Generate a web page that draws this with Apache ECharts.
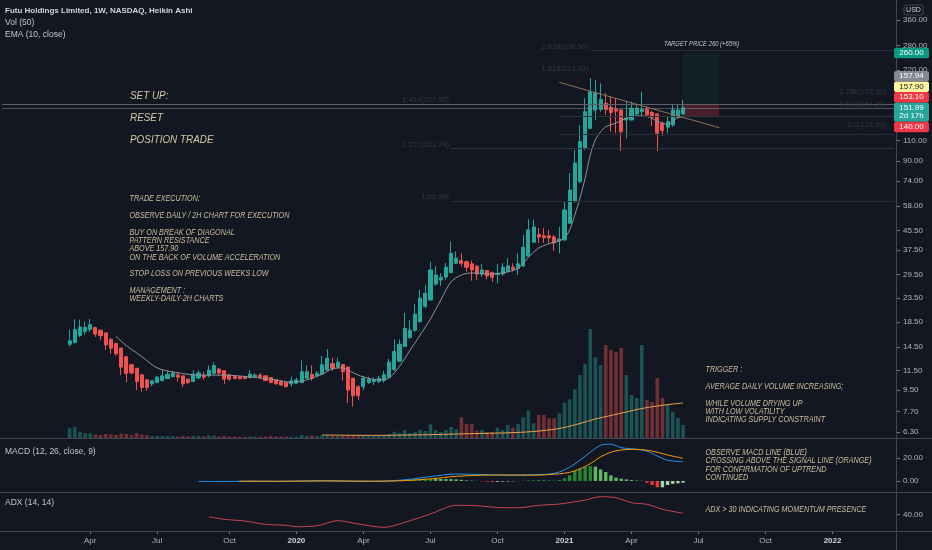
<!DOCTYPE html>
<html><head><meta charset="utf-8">
<script src="https://cdn.jsdelivr.net/npm/echarts@6/dist/echarts.min.js"></script>
<style>html,body{margin:0;padding:0;background:#131722;}#c{width:932px;height:550px;}</style>
</head><body><div id="c"></div><script>
// ---------- DATA ----------
const firstWeek = '2018-12-03', weekCount = 174, firstBar = '2019-03-04';
const monthNames = ['Jan','Feb','Mar','Apr','May','Jun','Jul','Aug','Sep','Oct','Nov','Dec'];
const priceTicks = [6.3,7.7,9.5,11.5,14.5,18.5,23.5,29.5,37.5,45.5,58,74,90,110,140,180,220,280,360,440];
const macdTicks = [0,20];
const adxTicks = [40];

const open = [14.9,15.15,16.2,16.9,17.2,17.55,17.1,16.65,15.65,15.0, 14.33,13.18,12.18,11.76,11.03,10.5,10.09,10.22,10.43,10.63,
 10.84,11.0,10.92,10.57,10.33,10.7,10.97,10.92,11.19,11.67, 11.48,11.03,10.84,10.82,10.83,10.74,10.81,11.0,10.92,10.74,
 10.5,10.33,10.22,10.09,10.16,10.22,10.67,11.07,10.92,11.1, 11.56,12.3,11.9,12.2,11.9,10.67,9.81,9.81,10.22,10.33,
 10.33,10.43,10.78,11.63,12.6,14.55,15.9,17.1,18.6,21.6, 23.0,26.9,28.0,28.8,30.1,33.0,33.9,33.5,32.8,32.0,
 29.7,30.7,30.1,29.5,29.7,30.4,31.75,31.4,32.15,35.4, 40.6,43.8,43.2,43.2,42.7,41.1,41.5,48.9,60.3,73.6,
 102.1,124.2,148.7,149.7,158.9,152.7,149.7,148.7,134.8,134.8, 142.9,146.3,149.7,144.9,142.9,130.5,125.6,128.2,138.4,142.9];
const close = [15.4,17.2,17.65,17.55,18.05,16.46,16.2,14.8,14.33,13.55, 11.9,11.19,11.23,10.33,9.75,9.75,10.4,10.78,10.92,11.1,
 11.23,10.78,10.09,10.22,11.1,11.23,10.78,11.56,12.1,11.23, 10.57,10.57,10.63,10.62,10.64,11.1,11.0,10.78,10.43,10.22,
 10.09,9.98,9.81,10.4,10.5,11.37,11.37,10.67,11.19,12.18, 12.99,11.76,12.49,11.37,9.5,8.98,8.98,10.67,10.57,10.5,
 10.67,11.03,12.49,13.87,14.9,17.4,17.1,20.0,23.4,24.6, 30.9,29.4,28.75,31.75,36.4,34.7,33.0,31.75,30.9,29.7,
 30.9,29.1,28.75,29.9,31.75,32.15,31.1,32.8,38.6,45.8, 47.1,42.7,42.4,42.3,40.3,41.9,55.7,67.8,88.4,109.0,
 146.3,178.0,176.2,165.2,149.7,144.9,147.2,120.2,137.1,151.2, 151.2,149.7,141.6,138.4,118.3,121.4,132.6,148.7,148.7,151.99];
const low = [14.55,15.0,16.0,16.3,16.8,16.0,15.5,14.1,13.55,13.3, 11.0,10.26,11.1,9.5,9.34,9.43,9.88,10.16,10.33,10.57,
 10.74,10.33,9.75,10.09,10.3,10.57,10.5,10.78,11.1,11.0, 10.09,10.4,10.57,10.55,10.56,10.67,10.74,10.57,10.37,10.16,
 10.02,9.91,9.78,9.81,10.09,10.16,10.57,10.43,10.81,11.0, 11.48,11.48,11.76,10.43,8.36,8.07,8.61,9.5,10.09,9.98,
 10.16,10.22,10.67,11.48,12.5,14.5,15.75,16.8,18.4,21.2, 22.85,26.4,26.4,28.0,29.9,32.8,32.0,30.4,27.8,28.0,
 28.9,28.2,27.5,27.1,29.2,30.1,30.4,29.4,31.75,35.2, 40.3,40.3,40.3,40.3,37.3,36.4,41.2,48.6,60.2,72.4,
 100.4,123.0,134.8,146.3,141.6,120.2,118.3,99.4,112.7,133.9, 141.6,138.6,138.6,127.2,99.4,115.4,118.3,126.3,137.5,142.0];
const high = [17.2,19.0,19.0,18.6,19.1,17.7,17.2,16.7,15.8,15.1, 14.4,13.2,12.2,11.8,11.05,10.57,10.5,10.92,11.56,11.48,
 11.48,11.37,10.95,10.67,11.56,11.56,11.37,12.1,12.5,11.76, 11.56,11.05,10.92,10.9,10.9,11.56,11.19,11.23,10.95,10.78,
 10.53,10.37,10.26,10.84,10.7,12.7,12.1,12.1,11.45,13.27, 14.2,13.05,13.05,12.25,11.95,10.7,9.98,10.92,10.81,10.74,
 10.92,11.48,12.9,15.6,15.6,20.25,18.9,22.1,25.4,26.7, 33.5,32.0,29.9,33.1,40.8,37.0,36.4,33.9,33.9,32.5,
 32.8,30.9,30.4,32.8,33.0,34.7,33.0,36.4,43.6,50.8, 50.5,46.6,46.6,45.8,43.6,47.2,60.5,80.1,100.4,128.2,
 166.9,203.4,199.7,193.3,175.3,169.6,166.9,149.0,163.0,161.4, 156.1,178.0,154.6,147.7,143.9,132.6,139.2,156.1,156.1,164.1];
const volume = [9.7,11.3,6.3,4.7,4.7,3.5,3,4,3.5,3, 4.5,4,3,5,3.5,3,2,2,2,2,
 1.8,1.5,2,1.5,2,1.8,1.5,2.5,2.5,1.5, 2,1.5,1.5,1.2,1.2,1.5,1.2,1.5,1.5,2,
 1.5,1.5,1.5,1.2,1.5,3,2,2.5,2,3, 3,2.5,2,2.5,3,3,2.5,2,2,1.8,
 2,2.5,4,6.3,5,8,5,6,8,7, 13.7,8,6,8,11,9,20.7,14,14,7.3,
 8,6,6,10.3,8,13,10.3,14,20.7,27.3, 14.7,23,23,19.7,19.7,24.7,35.3,38.7,48.7,63,
 74,109,80.7,73,93,88,86,90,63,43, 40,93,38,36,60,40,33,26,20,13];
// [bar index, value] readings of the indicator lines
const volMa = [[49,3.0],[55,2.7],[60,2.6],[65,3.0],[70,3.3],[75,4.0],[80,4.6],[85,5.2],[90,6.5],[95,9.5],[99,14.5],[102,19],[105,22.5],[108,26],[111,29.5],[114,32],[117,34],[119,35]];
const ema10 = [[9,16.1],[11,14.7],[14,13.2],[17,11.8],[21,11.25],[25,11.0],[30,11.0],[35,10.8],[40,10.5],[43,10.25],[46,10.5],[49,11.1],[51,11.7],[53,11.8],[55,11.25],[57,10.8],[60,10.5],[62,10.7],[64,12.0],[66,14.0],[68,16.3],[70,19.1],[72,23.0],[74,27.5],[76,29.4],[78,30.0],[81,29.7],[84,30.0],[87,31.4],[89,35.0],[91,38.3],[93,40.0],[95,41.1],[96,42.3],[97,45.8],[98,53.0],[99,62.6],[100,76],[101,95.5],[102,110.8],[103,120],[104,126],[106,130.9],[108,137.1],[110,140.3],[112,139.6],[114,133.2],[116,129.2],[118,137.9],[119,139.6]];
const macdLine = [[25,-0.5],[30,-0.4],[35,-0.3],[40,-0.3],[45,-0.1],[50,0.2],[55,-0.3],[60,-0.2],[63,0.3],[66,1.5],[70,3.8],[75,6.0],[80,5.6],[85,5.0],[90,5.5],[93,6.0],[95,7.8],[97,12],[99,18],[101,25],[103,31],[105,32],[107,29],[110,27.5],[112,26],[114,21.7],[116,18],[119,16.8]];
const signalLine = [[33,-0.3],[40,-0.3],[50,0],[60,-0.2],[65,0.3],[70,1.8],[75,4.0],[80,5.0],[85,5.2],[90,5.0],[95,6.2],[97,7.5],[99,10.5],[101,15],[103,21],[105,25],[107,27],[110,27.5],[113,26],[116,22.6],[119,19.7]];
const histStart = 33;
const macdHist = [0.3,0.35,0.3,0.25,0.2,0.2,0.15,0.1,0.1,0.05,0.1,0.15,0.2,0.2,0.2,0.2,0.25,0.3,0.3,0.2,
 -0.1,-0.4,-0.6,-0.5,-0.3, -0.2,-0.1,0.1,0.2,0.4,0.6,0.8,1.1,
 1.3,1.5,1.8,2.0,2.2,2.0,1.8,1.7,1.6,1.4, 1.0,0.6,0.3,0.1,-0.3,-0.6,-0.8,-0.7,-0.5,-0.4,-0.3,-0.1,
 0.2,0.5,0.6,0.5,0.4,0.3,0.3,0.8, 2.3,5,8.7,10.7,12.5,13,12.5,10,7.8,4.9,2.9,2,1.4,0.9,0.4,0.2,
 -1.5,-3.5,-5.5,-5.5,-3.5,-2.5,-2,-1.5];
const adx = [[27,36.3],[30,31.5],[34,28.4],[38,22.3],[42,20.5],[44,17.9],[48,19.7],[52,29],[56,22.9],[61,16.8],[64,22.9],[70,41.3],[75,57.3],[79,56.6],[84,52.9],[87,52.9],[91,57.3],[95,59.7],[100,67],[103,73.2],[106,71.3],[109,62.1],[112,59.2],[115,50],[119,42.6]];

// drawings
const lastPrice = 151.99, entryPrice = 157.90, resistPrice = 157.94, stopPrice = 140.00, targetPrice = 260.00, midPrice = 153.10;
const fibLevels = [[266.5,'2021-02-08','2.618(266.50)'],[213.43,'2021-02-08','1.618(213.43)'],[157.90,'2020-08-03','1.414(157.90)'],[101.74,'2020-08-03','1.272(101.74)'],[60.9,'2020-08-03','1(60.90)']];
const rightLabels = [[172.3,'0.786(172.30)'],[151.2,'0.618(151.20)'],[124.6,'0.5(124.60)']];
const trendLine = [['2020-12-28',195],['2021-08-02',125]];
const boxFrom = '2021-06-14', boxTo = '2021-08-02';

const titleLines = ['Futu Holdings Limited, 1W, NASDAQ, Heikin Ashi','Vol (50)','EMA (10, close)'];
const setupLines = ['SET UP:','RESET','POSITION TRADE'];
const execText = 'TRADE EXECUTION:\n\nOBSERVE DAILY / 2H CHART FOR EXECUTION\n\nBUY ON BREAK OF DIAGONAL\nPATTERN RESISTANCE\nABOVE 157.90\nON THE BACK OF VOLUME ACCELERATION\n\nSTOP LOSS ON PREVIOUS WEEKS LOW\n\nMANAGEMENT :\nWEEKLY-DAILY-2H CHARTS';
const triggerText = 'TRIGGER :\n\nAVERAGE DAILY VOLUME INCREASING;\n\nWHILE VOLUME DRYING UP\nWITH LOW VOLATILITY\nINDICATING SUPPLY CONSTRAINT';
const macdNote = 'OBSERVE MACD LINE (BLUE)\nCROSSING ABOVE THE SIGNAL LINE (ORANGE)\nFOR CONFIRMATION OF UPTREND\nCONTINUED';
const adxNote = 'ADX > 30 INDICATING MOMENTUM PRESENCE';
const targetNote = 'TARGET PRICE 260 (+65%)';

// ---------- BUILD ----------
const weeks = [];
{ const t0 = Date.parse(firstWeek + 'T00:00:00Z');
  for (let k = 0; k < weekCount; k++) weeks.push(new Date(t0 + k * 7 * 864e5).toISOString().slice(0, 10)); }
const off = weeks.indexOf(firstBar);
const last = weeks[weeks.length - 1];
const K = d => weeks.indexOf(d);
const isLabelWeek = k => { if (k < off) return false; const d = new Date(weeks[k] + 'T00:00:00Z'); return d.getUTCDate() <= 7 && d.getUTCMonth() % 3 === 0; };

const candles = open.map((o, i) => [i + off, o, close[i], low[i], high[i]]);
const volData = volume.map((v, i) => ({ value: [i + off, v], itemStyle: { color: close[i] >= open[i] ? 'rgba(38,166,154,0.42)' : 'rgba(239,83,80,0.42)' } }));
const shift = arr => arr.map(([i, v]) => [i + off, v]);
const histData = macdHist.map((v, j) => {
  const prev = j > 0 ? macdHist[j - 1] : v; let c;
  if (v >= 0) c = v >= prev ? '#25882f' : '#62b866'; else c = v < prev ? '#e53935' : '#a5d6a7';
  return { value: [histStart + j + off, v], itemStyle: { color: c } };
});

const seg = (d1, p1, d2, p2, color, type) => [{ coord: [K(d1), p1], lineStyle: { color, width: 1, type: type || 'solid' } }, { coord: [K(d2), p2] }];

const xBase = { type: 'category', data: weeks, boundaryGap: true, axisLine: { show: false }, axisTick: { show: false }, axisLabel: { show: false }, splitLine: { show: false } };
const yBase = (g, min, max, ticks) => ({
  gridIndex: g, type: 'value', min, max, position: 'right',
  axisLine: { show: false },
  axisTick: { show: true, customValues: ticks, length: 3, lineStyle: { color: '#787b86' } },
  axisLabel: { show: true, customValues: ticks, formatter: v => (+v).toFixed(2), color: '#b2b5be', fontSize: 8, margin: 6 },
  splitLine: { show: false }
});
const yMain = yBase(0, 5.93, 438, priceTicks); yMain.type = 'log'; yMain.logBase = 10;

const option = {
  backgroundColor: '#131722',
  animation: false,
  textStyle: { fontFamily: 'Liberation Sans, Arial, sans-serif' },
  grid: [
    { left: 0, right: 35, top: 0, height: 438 },
    { left: 0, right: 35, top: 290, height: 148 },
    { left: 0, right: 35, top: 439, height: 53 },
    { left: 0, right: 35, top: 493, height: 38 }
  ],
  xAxis: [
    Object.assign({}, xBase, { gridIndex: 0 }),
    Object.assign({}, xBase, { gridIndex: 1 }),
    Object.assign({}, xBase, { gridIndex: 2 }),
    Object.assign({}, xBase, {
      gridIndex: 3,
      axisTick: { show: true, interval: k => isLabelWeek(k), length: 3, inside: false, alignWithLabel: true, lineStyle: { color: '#787b86' } },
      axisLabel: {
        show: true, interval: k => isLabelWeek(k), color: '#b2b5be', fontSize: 8, margin: 6,
        formatter: v => { const d = new Date(v + 'T00:00:00Z'); const m = d.getUTCMonth(); return m === 0 ? '{y|' + d.getUTCFullYear() + '}' : monthNames[m]; },
        rich: { y: { fontWeight: 'bold', color: '#d1d4dc', fontSize: 8 } }
      }
    })
  ],
  yAxis: [
    yMain,
    { gridIndex: 1, type: 'value', min: 0, max: 148, show: false },
    yBase(2, -9.6, 36.5, macdTicks),
    yBase(3, 10, 80, adxTicks)
  ],
  series: [
    { type: 'bar', name: 'Vol', xAxisIndex: 1, yAxisIndex: 1, barWidth: 3.6, data: volData, z: 1 },
    { type: 'line', name: 'VolMA', xAxisIndex: 1, yAxisIndex: 1, data: shift(volMa), showSymbol: false, smooth: 0.3, lineStyle: { color: '#eea24c', width: 1 }, z: 2 },
    {
      type: 'candlestick', name: 'FUTU', xAxisIndex: 0, yAxisIndex: 0, barWidth: 3.6, encode: { x: 0, y: [1, 2, 3, 4] }, data: candles, z: 3,
      itemStyle: { color: '#26a69a', color0: '#ef5350', borderColor: '#26a69a', borderColor0: '#ef5350', borderWidth: 1 },
      markLine: {
        symbol: ['none', 'none'], silent: true, label: { show: false }, animation: false,
        data: [
          seg(weeks[0], resistPrice, last, resistPrice, '#787b86'),
          seg(weeks[0], entryPrice, last, entryPrice, '#5d606b'),
          seg(weeks[0], lastPrice, last, lastPrice, '#8a8e99', 'dotted'),
          seg(fibLevels[0][1], fibLevels[0][0], last, fibLevels[0][0], '#2a2e39'),
          seg(fibLevels[3][1], fibLevels[3][0], last, fibLevels[3][0], '#323642'),
          seg(fibLevels[4][1], fibLevels[4][0], last, fibLevels[4][0], '#272b36'),
          seg(trendLine[0][0], stopPrice, last, stopPrice, '#2f333e'),
          seg(trendLine[0][0], 117.6, last, 117.6, '#272b36'),
          seg(trendLine[0][0], trendLine[0][1], trendLine[1][0], trendLine[1][1], '#8d7356')
        ]
      },
      markArea: {
        silent: true,
        data: [
          [{ coord: [K(boxFrom), targetPrice], itemStyle: { color: 'rgba(8,153,129,0.07)' } }, { coord: [K(boxTo), entryPrice] }],
          [{ coord: [K(boxFrom), entryPrice], itemStyle: { color: 'rgba(242,54,69,0.24)' } }, { coord: [K(boxTo), stopPrice] }]
        ]
      }
    },
    { type: 'line', name: 'EMA', xAxisIndex: 0, yAxisIndex: 0, data: shift(ema10), showSymbol: false, smooth: 0.3, lineStyle: { color: '#8f939c', width: 1 }, z: 4 },
    { type: 'bar', name: 'Hist', xAxisIndex: 2, yAxisIndex: 2, barWidth: 3.4, data: histData },
    { type: 'line', name: 'MACD', xAxisIndex: 2, yAxisIndex: 2, data: shift(macdLine), showSymbol: false, smooth: 0.3, lineStyle: { color: '#2196f3', width: 1 } },
    { type: 'line', name: 'Signal', xAxisIndex: 2, yAxisIndex: 2, data: shift(signalLine), showSymbol: false, smooth: 0.3, lineStyle: { color: '#ff9800', width: 1 } },
    { type: 'line', name: 'ADX', xAxisIndex: 3, yAxisIndex: 3, data: shift(adx), showSymbol: false, smooth: 0.3, lineStyle: { color: '#c9444f', width: 1 } }
  ]
};

const chart = echarts.init(document.getElementById('c'), null, { width: 932, height: 550 });
chart.setOption(option);

// ---------- OVERLAY TEXT / TAGS ----------
const F = 'Liberation Sans, Arial, sans-serif';
const px = (k, p) => chart.convertToPixel({ gridIndex: 0 }, [k, p]);
const py = p => px(0, p)[1];
const G = [];
const txt = (x, y, text, font, fill, o) => {
  o = o || {};
  G.push({ type: 'text', x, y, scaleX: o.sx || 1, z: 62, silent: true,
    style: { text, font, fill, textAlign: o.align || 'left', textVerticalAlign: o.va || 'middle', lineHeight: o.lh || undefined } });
};
// pane separators and price scale border
const axisX = 896.5;
[438.5, 492.5, 531.5].forEach(y => G.push({ type: 'line', z: 40, silent: true, shape: { x1: 0, y1: y, x2: 932, y2: y }, style: { stroke: '#434651', lineWidth: 1 } }));
G.push({ type: 'line', z: 40, silent: true, shape: { x1: axisX, y1: 0, x2: axisX, y2: 550 }, style: { stroke: '#434651', lineWidth: 1 } });

// legends
txt(5, 11, titleLines[0], 'bold 8px ' + F, '#d1d4dc');
txt(5, 23, titleLines[1], '8.5px ' + F, '#c3c6ce');
txt(5, 35, titleLines[2], '8.5px ' + F, '#c3c6ce');
txt(5, 452, 'MACD (12, 26, close, 9)', '8.5px ' + F, '#c3c6ce');
txt(5, 503, 'ADX (14, 14)', '8.5px ' + F, '#c3c6ce');

// annotations
const beige = '#d6c8a2';
txt(130, 96, setupLines[0], 'italic 11.5px ' + F, beige, { sx: 0.86 });
txt(130, 117.5, setupLines[1], 'italic 11.5px ' + F, beige, { sx: 0.86 });
txt(130, 139.5, setupLines[2], 'italic 11.5px ' + F, beige, { sx: 0.86 });
txt(129.5, 194.8, execText, 'italic 9px ' + F, '#cdbf9c', { sx: 0.8, va: 'top', lh: 8.3 });
txt(705.5, 365.8, triggerText, 'italic 9px ' + F, '#cdbf9c', { sx: 0.8, va: 'top', lh: 8.3 });
txt(705.5, 448.5, macdNote, 'italic 9px ' + F, '#cdbf9c', { sx: 0.8, va: 'top', lh: 8.3 });
txt(705.5, 509, adxNote, 'italic 9px ' + F, '#cdbf9c', { sx: 0.8 });
txt(664, 44.5, targetNote, 'italic 7px ' + F, '#c8cad0', { sx: 0.84 });

// fib labels anchored to levels
fibLevels.forEach(([p, d, t]) => { const [x, y] = px(K(d), p); txt(x - 2, y - 4, t, '7.5px ' + F, '#343843', { align: 'right' }); });
rightLabels.forEach(([p, t]) => { txt(886, py(p) - 3, t, '7.5px ' + F, '#343843', { align: 'right' }); });

// price tags
const tag = (yc, h, lines, bg, fg) => {
  G.push({ type: 'rect', z: 60, silent: true, shape: { x: 894, y: yc - h / 2, width: 35, height: h, r: 2 }, style: { fill: bg } });
  lines.forEach((t, j) => txt(911.5, yc - h / 2 + 5.2 + j * 8.2, t, '8px ' + F, fg, { align: 'center' }));
};
tag(py(targetPrice), 10.5, [targetPrice.toFixed(2)], '#089981', '#ffffff');
const y0 = py(lastPrice);
tag(y0 + 4.35, 19.3, [lastPrice.toFixed(2), '2d 17h'], '#26a69a', '#ffffff');
tag(y0 - 10.5, 10.5, [midPrice.toFixed(2)], '#f23645', '#ffffff');
tag(y0 - 21, 10.5, [entryPrice.toFixed(2)], '#fff59d', '#131722');
tag(y0 - 31.5, 10.5, [resistPrice.toFixed(2)], '#868993', '#ffffff');
tag(y0 + 19.3, 10.5, [stopPrice.toFixed(2)], '#f23645', '#ffffff');
// currency badge
G.push({ type: 'rect', z: 60, silent: true, shape: { x: 904, y: 5, width: 19, height: 10, r: 2 }, style: { fill: '#131722', stroke: '#434651', lineWidth: 1 } });
txt(913.5, 10, 'USD', '7px ' + F, '#d1d4dc', { align: 'center' });

chart.setOption({ graphic: { elements: G } });
</script></body></html>
